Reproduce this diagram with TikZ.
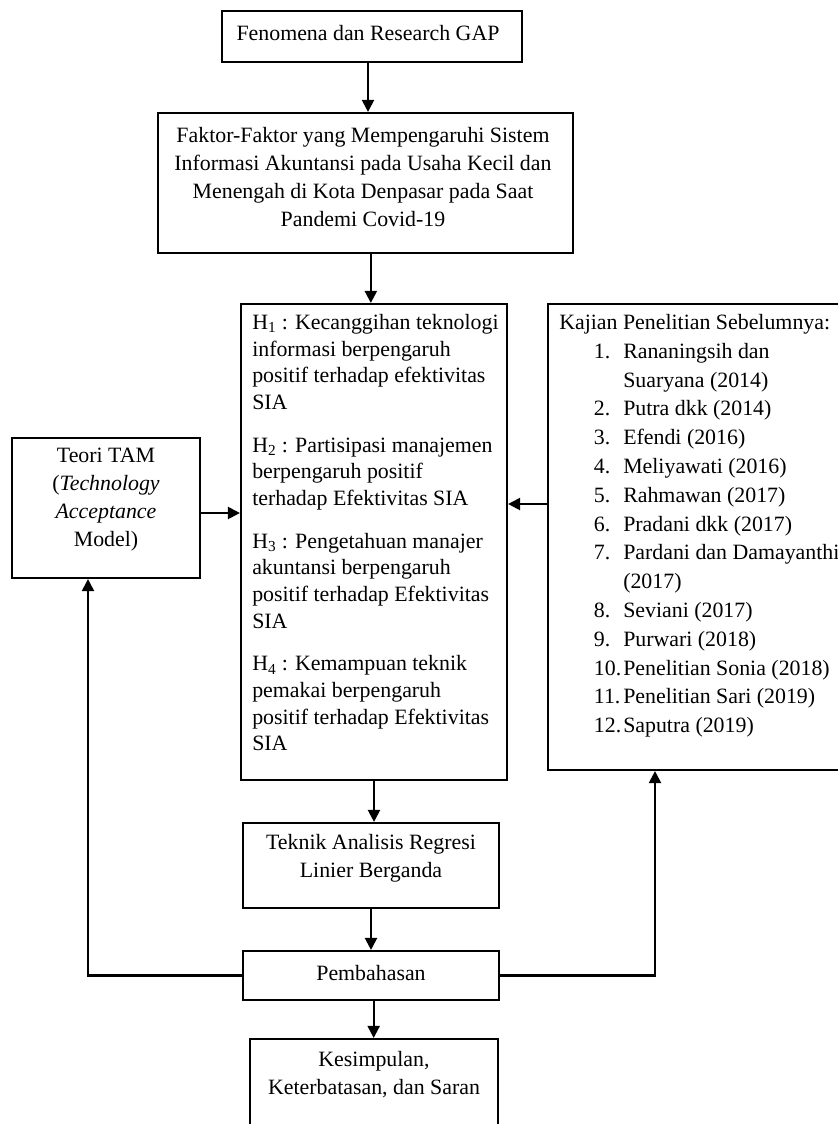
\documentclass[tikz,border=0pt]{standalone}
\usepackage{fontspec}
\setmainfont{Liberation Serif}
\usetikzlibrary{arrows.meta,fit,calc}
\begin{document}
\begin{tikzpicture}[x=0.75pt,y=-0.75pt,
  box/.style={draw,line width=1.6pt,inner sep=0pt},
  txt/.style={font=\fontsize{16.4pt}{21pt}\selectfont, inner sep=0pt},
  arr/.style={line width=1.6pt,-{Triangle[length=9pt,width=9pt]}}]
\useasboundingbox (0,0) rectangle (838,1124);
\clip (0,0) rectangle (838,1124);
% boxes
\node[box, fit={(222,11) (522,62)}] (b1) {};
\node[box, fit={(158,113) (573,253)}] (b2) {};
\node[box, fit={(241,304) (507,780)}] (hyp) {};
\node[box, fit={(548,304) (850,770)}] (kaj) {};
\node[box, fit={(12,438) (200,578)}] (tam) {};
\node[box, fit={(243,823) (499,908)}] (tek) {};
\node[box, fit={(243,951) (499,1000)}] (pem) {};
\node[box, fit={(250,1039) (498,1140)}] (kes) {};
% texts
\node[txt] (t1) at (368,33) {Fenomena dan Research GAP};
\node[txt, align=center] (t2) at (363,177) {Faktor-Faktor yang Mempengaruhi Sistem\\Informasi Akuntansi pada Usaha Kecil dan\\Menengah di Kota Denpasar pada Saat\\Pandemi Covid-19};
\node[txt, align=left, anchor=north west, font=\fontsize{16.4pt}{20pt}\selectfont] (t3) at (252,314) {H\textsubscript{1} : Kecanggihan teknologi\\informasi berpengaruh\\positif terhadap efektivitas\\SIA\\[12pt]
H\textsubscript{2} : Partisipasi manajemen\\berpengaruh positif\\terhadap Efektivitas SIA\\[12pt]
H\textsubscript{3} : Pengetahuan manajer\\akuntansi berpengaruh\\positif terhadap Efektivitas\\SIA\\[12pt]
H\textsubscript{4} : Kemampuan teknik\\pemakai berpengaruh\\positif terhadap Efektivitas\\SIA};
\node[txt, align=left, anchor=north west, font=\fontsize{16.4pt}{21.6pt}\selectfont] (t4) at (559,314) {Kajian Penelitian Sebelumnya:\\
\hspace*{26pt}\makebox[22pt][l]{1.}Rananingsih dan\\
\hspace*{48pt}Suaryana (2014)\\
\hspace*{26pt}\makebox[22pt][l]{2.}Putra dkk (2014)\\
\hspace*{26pt}\makebox[22pt][l]{3.}Efendi (2016)\\
\hspace*{26pt}\makebox[22pt][l]{4.}Meliyawati (2016)\\
\hspace*{26pt}\makebox[22pt][l]{5.}Rahmawan (2017)\\
\hspace*{26pt}\makebox[22pt][l]{6.}Pradani dkk (2017)\\
\hspace*{26pt}\makebox[22pt][l]{7.}Pardani dan Damayanthi\\
\hspace*{48pt}(2017)\\
\hspace*{26pt}\makebox[22pt][l]{8.}Seviani (2017)\\
\hspace*{26pt}\makebox[22pt][l]{9.}Purwari (2018)\\
\hspace*{26pt}\makebox[22pt][l]{10.}Penelitian Sonia (2018)\\
\hspace*{26pt}\makebox[22pt][l]{11.}Penelitian Sari (2019)\\
\hspace*{26pt}\makebox[22pt][l]{12.}Saputra (2019)};
\node[txt, align=center] (t5) at (106,500) {Teori TAM\\(\textit{Technology}\\\textit{Acceptance}\\Model)};
\node[txt, align=center] (t6) at (371,858) {Teknik Analisis Regresi\\Linier Berganda};
\node[txt] (t7) at (371,973) {Pembahasan};
\node[txt, align=center] (t8) at (374,1075) {Kesimpulan,\\Keterbatasan, dan Saran};
% connectors
\draw[arr] ([xshift=-3pt]b1.south) -- ([xshift=-3pt]b1.south |- b2.north);
\draw[arr] ([xshift=4pt]b2.south) -- ([xshift=4pt]b2.south |- hyp.north);
\draw[arr] (hyp.south) -- (hyp.south |- tek.north);
\draw[arr] (tek.south) -- (pem.north);
\draw[arr] ([xshift=2pt]pem.south) -- ([xshift=2pt]pem.south |- kes.north);
\draw[arr] ([yshift=24.75pt]kaj.west) -- ([yshift=24.75pt]kaj.west -| hyp.east);
\draw[arr] ([yshift=-3.75pt]tam.east) -- ([yshift=-3.75pt]tam.east -| hyp.west);
\draw[arr] (pem.west) -| ([xshift=-13.5pt]tam.south);
\draw[arr] (pem.east) -| ([xshift=-33pt]kaj.south);
\end{tikzpicture}
\end{document}
